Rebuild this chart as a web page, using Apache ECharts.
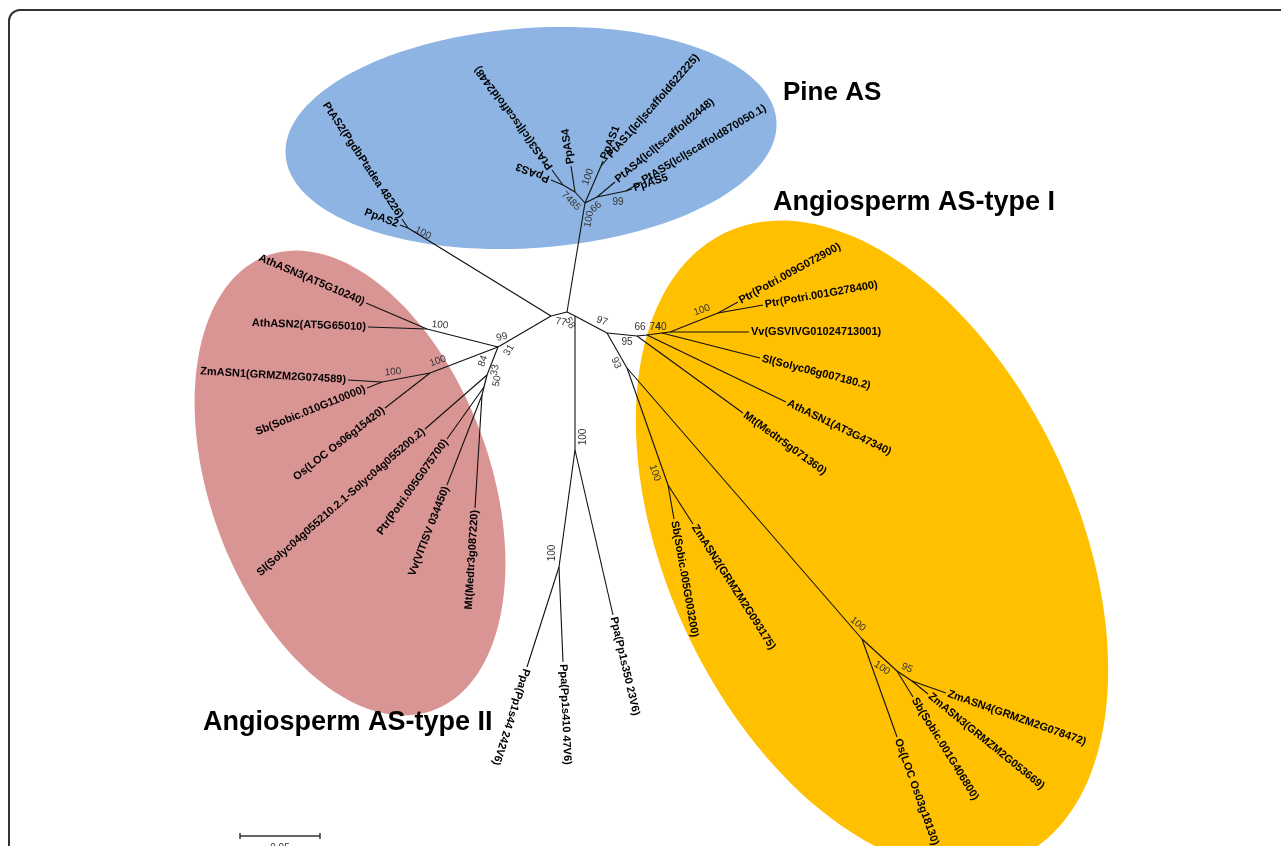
<!DOCTYPE html>
<html>
<head>
<meta charset="utf-8">
<title>Asparagine synthetase phylogeny</title>
<script src="https://cdn.jsdelivr.net/npm/echarts@6/dist/echarts.min.js"></script>
<style>
  html, body { margin: 0; padding: 0; background: #ffffff; }
  #main { width: 1281px; height: 846px; }
</style>
</head>
<body>
<div id="main"></div>
<script>
// Unrooted tree layout. Units: 1600 layout units = 1 substitution per site
// (so the 0.05 scale bar spans 80 units). Origin at the central node.

// Internal nodes: [id, x, y, parent]
const internalNodes = [
  ['C', 0, 0, null],
  ['P0', 18, 109, 'C'],
  ['Pn100', 34, 146, 'P0'],
  ['Q', 30, 115, 'P0'],
  ['N99p', 59, 121, 'Q'],
  ['N85', 8, 120, 'P0'],
  ['N74p', -4, 127, 'N85'],
  ['NL', -16, -4, 'C'],
  ['N2', -159, 84, 'NL'],
  ['N31', -69, -35, 'NL'],
  ['NAth', -140, -17, 'N31'],
  ['NMono', -137, -61, 'N31'],
  ['NZmSb', -185, -70, 'NMono'],
  ['N84', -80, -63, 'N31'],
  ['N50', -83, -75, 'N84'],
  ['N33', -85, -83, 'N50'],
  ['NP', 8, -4, 'C'],
  ['NPa', 8, -138, 'NP'],
  ['NPb', -8, -255, 'NPa'],
  ['N97', 40, -21, 'NP'],
  ['N95', 70, -24, 'N97'],
  ['N66', 80, -23, 'N95'],
  ['N74', 95, -21, 'N66'],
  ['N40', 103, -20, 'N74'],
  ['NPtr', 151, -1, 'N40'],
  ['N93', 60, -56, 'N97'],
  ['NSZ', 101, -173, 'N93'],
  ['N100b', 295, -327, 'N93'],
  ['N100c', 330, -359, 'N100b'],
  ['N95b', 345, -369, 'N100c']
];

// Leaves: [label, x, y, parent]
const pineTips = [
  ['PpAS1', 36, 151, 'Pn100'],
  ['PtAS1(lcl|scaffold622225)', 41, 154, 'Pn100'],
  ['PtAS4(lcl|tscaffold2448)', 48, 130, 'Q'],
  ['PpAS5', 65, 123, 'N99p'],
  ['PtAS5(lcl|scaffold870050.1)', 74, 130, 'N99p'],
  ['PpAS4', 4, 146, 'N85'],
  ['PpAS3', -16, 132, 'N74p'],
  ['PtAS3(lcl|tscaffold2448)', -15, 142, 'N74p']
];
const pineAS2Tips = [
  ['PtAS2(PgdbPtadea 48226)', -165, 93, 'N2'],
  ['PpAS2', -167, 87, 'N2']
];
const typeIITips = [
  ['AthASN3(AT5G10240)', -201, 9, 'NAth'],
  ['AthASN2(AT5G65010)', -199, -15, 'NAth'],
  ['Os(LOC Os06g15420)', -182, -96, 'NMono'],
  ['ZmASN1(GRMZM2G074589)', -219, -68, 'NZmSb'],
  ['Sb(Sobic.010G110000)', -200, -76, 'NZmSb'],
  ['Sl(Solyc04g055210.2.1-Solyc04g055200.2)', -142, -117, 'N84'],
  ['Ptr(Potri.005G075700)', -120, -127, 'N50'],
  ['Vv(VITISV 034450)', -120, -173, 'N33'],
  ['Mt(Medtr3g087220)', -92, -196, 'N33']
];
const mossTips = [
  ['Ppa(Pp1s350 23V6)', 46, -303, 'NPa'],
  ['Ppa(Pp1s410 47V6)', -4, -350, 'NPb'],
  ['Ppa(Pp1s44 242V6)', -40, -355, 'NPb']
];
const typeITips = [
  ['Mt(Medtr5g071360)', 176, -101, 'N95'],
  ['AthASN1(AT3G47340)', 219, -90, 'N66'],
  ['Sl(Solyc06g007180.2)', 193, -46, 'N74'],
  ['Vv(GSVIVG01024713001)', 182, -20, 'N40'],
  ['Ptr(Potri.009G072900)', 171, 10, 'NPtr'],
  ['Ptr(Potri.001G278400)', 196, 7, 'NPtr'],
  ['Sb(Sobic.005G003200)', 107, -207, 'NSZ'],
  ['ZmASN2(GRMZM2G093175)', 126, -212, 'NSZ'],
  ['Os(LOC Os03g18130)', 330, -425, 'N100b'],
  ['Sb(Sobic.001G406800)', 346, -385, 'N100c'],
  ['ZmASN3(GRMZM2G053669)', 361, -382, 'N95b'],
  ['ZmASN4(GRMZM2G078472)', 379, -381, 'N95b']
];

// Bootstrap support: [node, value]
const supportValues = [
  ['N2', '100'], ['NAth', '100'], ['N31', '99'], ['N31', '31'],
  ['NMono', '100'], ['NZmSb', '100'], ['N84', '84'], ['N50', '50'], ['N33', '33'],
  ['NL', '77'], ['C', '58'], ['N97', '97'], ['N66', '66'], ['N74', '74'], ['N40', '40'],
  ['N95', '95'], ['N93', '93'], ['NSZ', '100'], ['NPtr', '100'], ['NPa', '100'], ['NPb', '100'],
  ['N100b', '100'], ['N100c', '100'], ['N95b', '95'], ['Pn100', '100'], ['N99p', '99'],
  ['N85', '74'], ['N74p', '85'], ['P0', '100'], ['Q', '66']
];

const cladeNames = ['Pine AS', 'Angiosperm AS-type I', 'Angiosperm AS-type II'];
const scaleBarLength = 0.05;
const unitsPerSubstitution = 1600;

// ---------- drawing configuration ----------
// Clade highlight ellipses: centre, semi-axes (layout units), major-axis angle (deg)
const cladeShapes = [
  { c: [-36, 174], a: 246, b: 110, angle: 4, color: '#8DB4E2' },
  { c: [305, -233], a: 345, b: 205, angle: 115, color: '#FFC000' },
  { c: [-217, -171], a: 242, b: 140, angle: 110, color: '#D99594' }
];
// Title placement in pixels
const cladeTitlePlacement = [
  { x: 783, y: 93, size: 26 },
  { x: 773, y: 203, size: 27 },
  { x: 203, y: 723, size: 27 }
];
// Leaf groups, and whether their labels are turned to read towards the leaf
const tipGroups = [
  { tips: pineTips, readInward: false },
  { tips: pineAS2Tips, readInward: true },
  { tips: typeIITips, readInward: true },
  { tips: mossTips, readInward: false },
  { tips: typeITips, readInward: false }
];
// Support label placement: pixel offset from node, rotation (deg)
const supportPlacement = [
  [15, 5, -28], [13, -4, -5], [4, -10, 15], [11, 3, 60],
  [8, -12, 20], [11, -10, 5], [-4, -14, 70], [13, -6, 80], [13, -25, 80],
  [10, 6, -10], [3, 11, -60], [-5, -12, -20], [-7, -8, 0], [-7, -6, 0], [-9, -5, 0],
  [-10, 6, 0], [-11, -5, -65], [-13, -12, -70], [-16, -3, 20], [8, -13, 90], [-7, -14, 90],
  [-4, -15, -40], [-15, -3, -35], [-5, -13, -25], [-13, 11, 70], [-8, 11, 0],
  [-8, 5, -45], [12, 20, -45], [4, 16, 80], [-1, 10, 40]
];
const scaleBarAnchor = [-327, -524];

const nodeById = {};
internalNodes.forEach(n => { nodeById[n[0]] = n; });
const nodePos = id => [nodeById[id][1], nodeById[id][2]];

// Branch segments from every node (internal or leaf) to its parent
const branchData = [];
internalNodes.forEach(n => {
  if (n[3]) { const p = nodePos(n[3]); branchData.push([p[0], p[1], n[1], n[2]]); }
});
const tipData = [];
const tipMeta = [];
tipGroups.forEach(g => g.tips.forEach(t => {
  const p = nodePos(t[3]);
  branchData.push([p[0], p[1], t[1], t[2]]);
  tipData.push([t[1], t[2], p[0], p[1]]);
  tipMeta.push({ label: t[0], inward: g.readInward });
}));

const supportData = supportValues.map(s => nodePos(s[0]));
const ellipseData = cladeShapes.map(s => s.c);

const leafFont = 'bold 11px "Liberation Sans", Arial, sans-serif';
const supportFont = '10px "Liberation Sans", Arial, sans-serif';

const chart = echarts.init(document.getElementById('main'), null, { renderer: 'canvas' });

chart.setOption({
  animation: false,
  backgroundColor: '#ffffff',
  grid: { left: 0, right: 0, top: 0, bottom: 0 },
  xAxis: { type: 'value', min: -567, max: 714, show: false },
  yAxis: { type: 'value', min: -534, max: 312, show: false },
  graphic: [
    {
      type: 'rect', z: 100, silent: true,
      shape: { x: 9, y: 10, width: 1300, height: 900, r: 11 },
      style: { fill: 'none', stroke: '#333333', lineWidth: 2 }
    }
  ].concat(cladeNames.map((name, i) => ({
    type: 'text', z: 100, silent: true,
    x: cladeTitlePlacement[i].x, y: cladeTitlePlacement[i].y,
    style: {
      text: name,
      font: 'bold ' + cladeTitlePlacement[i].size + 'px "Liberation Sans", Arial, sans-serif',
      fill: '#000000',
      align: 'left', verticalAlign: 'middle',
      textAlign: 'left', textVerticalAlign: 'middle'
    }
  }))),
  series: [
    {
      // clade highlight ellipses
      type: 'custom', z: 1, silent: true, clip: false,
      data: ellipseData,
      encode: { x: 0, y: 1 },
      renderItem: (params, api) => {
        const s = cladeShapes[params.dataIndex];
        const phi = s.angle * Math.PI / 180;
        const pts = [];
        for (let k = 0; k < 180; k++) {
          const t = k / 180 * Math.PI * 2;
          const ex = s.a * Math.cos(t), ey = s.b * Math.sin(t);
          const x = s.c[0] + ex * Math.cos(phi) - ey * Math.sin(phi);
          const y = s.c[1] + ex * Math.sin(phi) + ey * Math.cos(phi);
          pts.push(api.coord([x, y]));
        }
        return { type: 'polygon', shape: { points: pts }, style: { fill: s.color } };
      }
    },
    {
      // branches
      type: 'custom', z: 2, silent: true, clip: false,
      data: branchData,
      encode: { x: [0, 2], y: [1, 3] },
      renderItem: (params, api) => {
        const a = api.coord([api.value(0), api.value(1)]);
        const b = api.coord([api.value(2), api.value(3)]);
        return {
          type: 'line',
          shape: { x1: a[0], y1: a[1], x2: b[0], y2: b[1] },
          style: { stroke: '#111111', lineWidth: 1.1 }
        };
      }
    },
    {
      // leaf labels, laid along their branch
      type: 'custom', z: 3, silent: true, clip: false,
      data: tipData,
      encode: { x: 0, y: 1 },
      renderItem: (params, api) => {
        const meta = tipMeta[params.dataIndex];
        const p = api.coord([api.value(0), api.value(1)]);
        const q = api.coord([api.value(2), api.value(3)]);
        const dx = p[0] - q[0], dy = p[1] - q[1];
        const len = Math.hypot(dx, dy) || 1;
        const theta = Math.atan2(-dy, dx);
        const gap = 2;
        const x = p[0] + gap * dx / len, y = p[1] + gap * dy / len;
        const rot = meta.inward ? theta - Math.PI : theta;
        const al = meta.inward ? 'right' : 'left';
        return {
          type: 'text', x: x, y: y, rotation: rot,
          style: {
            text: meta.label, font: leafFont, fill: '#000000',
            align: al, verticalAlign: 'middle',
            textAlign: al, textVerticalAlign: 'middle'
          }
        };
      }
    },
    {
      // bootstrap support values
      type: 'custom', z: 3, silent: true, clip: false,
      data: supportData,
      encode: { x: 0, y: 1 },
      renderItem: (params, api) => {
        const p = api.coord([api.value(0), api.value(1)]);
        const pl = supportPlacement[params.dataIndex];
        return {
          type: 'text', x: p[0] + pl[0], y: p[1] + pl[1], rotation: pl[2] * Math.PI / 180,
          style: {
            text: supportValues[params.dataIndex][1], font: supportFont, fill: '#333333',
            align: 'center', verticalAlign: 'middle',
            textAlign: 'center', textVerticalAlign: 'middle'
          }
        };
      }
    },
    {
      // scale bar
      type: 'custom', z: 3, silent: true, clip: false,
      data: [[scaleBarAnchor[0], scaleBarAnchor[1], scaleBarAnchor[0] + scaleBarLength * unitsPerSubstitution, scaleBarAnchor[1]]],
      encode: { x: [0, 2], y: [1, 3] },
      renderItem: (params, api) => {
        const a = api.coord([api.value(0), api.value(1)]);
        const b = api.coord([api.value(2), api.value(3)]);
        const st = { stroke: '#333333', lineWidth: 1.5 };
        return {
          type: 'group',
          children: [
            { type: 'line', shape: { x1: a[0], y1: a[1], x2: b[0], y2: b[1] }, style: st },
            { type: 'line', shape: { x1: a[0], y1: a[1] - 3, x2: a[0], y2: a[1] + 3 }, style: st },
            { type: 'line', shape: { x1: b[0], y1: b[1] - 3, x2: b[0], y2: b[1] + 3 }, style: st },
            {
              type: 'text', x: (a[0] + b[0]) / 2, y: a[1] + 12,
              style: {
                text: String(scaleBarLength), font: supportFont, fill: '#333333',
                align: 'center', verticalAlign: 'middle',
                textAlign: 'center', textVerticalAlign: 'middle'
              }
            }
          ]
        };
      }
    }
  ]
});
</script>
</body>
</html>
